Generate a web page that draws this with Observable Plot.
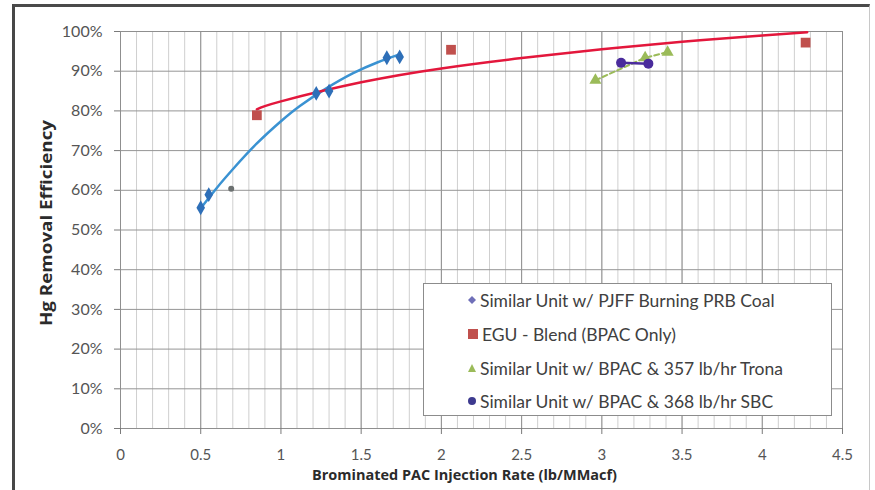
<!DOCTYPE html>
<html>
<head>
<meta charset="utf-8">
<script src="https://cdn.jsdelivr.net/npm/d3@7"></script>
<script src="https://cdn.jsdelivr.net/npm/@observablehq/plot@0.6"></script>
<style>
  html, body { margin: 0; padding: 0; background: #fff; }
  #wrap { position: relative; width: 875px; height: 490px; overflow: hidden; font-family: Lato, "Open Sans", sans-serif; }
  #frame { position: absolute; left: 12px; top: 4px; width: 854px; height: 500px;
           border-left: 3px solid #474747; border-top: 3px solid #4a4a4a; border-right: 1px solid #c8c8c8; pointer-events: none; }
  #legend { position: absolute; left: 423px; top: 283px; width: 409px; height: 133px; background: #fff;
            border: 1px solid #8c8c8c; box-sizing: border-box; }
  .item { position: absolute; left: 44px; height: 20px; display: flex; align-items: center; font-size: 17.5px; color: #404040; white-space: nowrap; }
  .item svg { margin-right: 4px; }
</style>
</head>
<body>
<div id="wrap"><div id="chart"></div><div id="legend"></div><div id="frame"></div></div>
<script>
// ---- data ----
const seriesNames = [
  "Similar Unit w/ PJFF Burning PRB Coal",
  "EGU - Blend (BPAC Only)",
  "Similar Unit w/ BPAC & 357 lb/hr Trona",
  "Similar Unit w/ BPAC & 368 lb/hr SBC"
];
// PJFF / PRB coal points (%)
const pjffX = [0.50, 0.55, 1.22, 1.30, 1.66, 1.74];
const pjffY = [55.6, 58.9, 84.4, 85.0, 93.4, 93.6];
// odd grey point
const greyX = [0.69];
const greyY = [60.4];
// blue trend curve samples
const pjffTrendX = [0.50, 0.60, 0.70, 0.85, 1.00, 1.12, 1.28, 1.45, 1.60, 1.73];
const pjffTrendY = [55.5, 60.6, 65.3, 71.8, 77.4, 81.3, 85.6, 89.5, 92.2, 94.1];
// EGU blend points
const eguX = [0.85, 2.06, 4.27];
const eguY = [78.9, 95.4, 97.2];
// red trend curve samples
const eguTrendX = [0.85, 1.00, 1.50, 2.00, 2.50, 3.00, 3.50, 4.00, 4.28];
const eguTrendY = [80.4, 82.4, 87.2, 90.7, 93.3, 95.5, 97.4, 99.0, 99.8];
// Trona
const tronaX = [2.96, 3.27, 3.41];
const tronaY = [87.7, 93.4, 94.8];
// SBC
const sbcX = [3.12, 3.29];
const sbcY = [92.1, 91.9];
// axes
const xTicks = [0, 0.5, 1, 1.5, 2, 2.5, 3, 3.5, 4, 4.5];
const xTickLabels = ["0", "0.5", "1", "1.5", "2", "2.5", "3", "3.5", "4", "4.5"];
const xMinor = d3.range(0, 45).map(i => i / 10);
const yTicks = [0, 10, 20, 30, 40, 50, 60, 70, 80, 90, 100];
const yTickLabels = yTicks.map(v => v + "%");
const xTitle = "Brominated PAC Injection Rate (lb/MMacf)";
const yTitle = "Hg Removal Efficiency";

const colors = { blue: "#2e6fb8", blueLine: "#3a92d2", red: "#c0504d", redLine: "#e3173c", green: "#9bbb59", purple: "#4a2c9c" };

const zip = (xs, ys) => xs.map((x, i) => ({ x, y: ys[i] }));
const pjff = zip(pjffX, pjffY), grey = zip(greyX, greyY), pjffTrend = zip(pjffTrendX, pjffTrendY);
const egu = zip(eguX, eguY), eguTrend = zip(eguTrendX, eguTrendY);
const trona = zip(tronaX, tronaY), sbc = zip(sbcX, sbcY);

const chart = Plot.plot({
  width: 875, height: 490,
  marginLeft: 120, marginRight: 33, marginTop: 31, marginBottom: 62,
  style: { fontFamily: "Lato, 'Open Sans', sans-serif", background: "transparent" },
  x: { domain: [0, 4.5] },
  y: { domain: [0, 100] },
  marks: [
    Plot.ruleX(xMinor, { stroke: "#cfcfcf", strokeWidth: 1 }),
    Plot.ruleX(xTicks, { stroke: "#8f8f8f", strokeWidth: 1 }),
    Plot.ruleY(yTicks, { stroke: "#959595", strokeWidth: 1 }),
    Plot.frame({ stroke: "#8f8f8f" }),
    Plot.axisX(xTicks, { tickSize: 6, tickPadding: 15, tickFormat: (d, i) => xTickLabels[i], fontSize: 15, color: "#7a7a7a", fill: "#555", label: null }),
    Plot.axisY(yTicks, { tickSize: 6, tickPadding: 12, tickFormat: (d, i) => yTickLabels[i], fontSize: 16, color: "#7a7a7a", fill: "#555", label: null }),
    Plot.text([yTitle], { frameAnchor: "left", textAnchor: "middle", dx: -74, dy: -7, rotate: -90, fontSize: 16.5, fontWeight: "bold", fill: "#2b2b2b", fontFamily: "'Open Sans', Lato, sans-serif", className: "ytitle" }),
    Plot.text([xTitle], { frameAnchor: "bottom", dx: -17, dy: 51, fontSize: 14, fontWeight: "bold", fill: "#2b2b2b", fontFamily: "'Open Sans', Lato, sans-serif", className: "xtitle" }),
    Plot.line(pjffTrend, { x: "x", y: "y", stroke: colors.blueLine, strokeWidth: 2.5, curve: "natural" }),
    Plot.line(eguTrend, { x: "x", y: "y", stroke: colors.redLine, strokeWidth: 2.5, curve: "natural" }),
    Plot.line(trona, { x: "x", y: "y", stroke: colors.green, strokeWidth: 2, strokeDasharray: "5,3" }),
    Plot.line(sbc, { x: "x", y: "y", stroke: colors.purple, strokeWidth: 2.5 }),
    Plot.dot(pjff, { x: "x", y: "y", symbol: "diamond", fill: colors.blue, r: 4.5 }),
    Plot.dot(grey, { x: "x", y: "y", fill: "#6b7070", r: 3 }),
    Plot.dot(egu, { x: "x", y: "y", symbol: "square", fill: colors.red, r: 5.5 }),
    Plot.dot(trona, { x: "x", y: "y", symbol: "triangle", fill: colors.green, r: 4.5 }),
    Plot.dot(sbc, { x: "x", y: "y", fill: colors.purple, r: 5 })
  ]
});
document.getElementById("chart").appendChild(chart);
// stretch titles to the reference's text lengths
d3.select(chart).selectAll("g.ytitle text").attr("textLength", 206).attr("lengthAdjust", "spacingAndGlyphs");
d3.select(chart).selectAll("g.xtitle text").attr("textLength", 305).attr("lengthAdjust", "spacingAndGlyphs");

// legend
const markers = [
  '<svg width="8" height="8"><path d="M4 0L8 4L4 8L0 4Z" fill="#6f6fb8"/></svg>',
  '<svg width="10" height="10"><rect width="10" height="10" fill="#c0504d"/></svg>',
  '<svg width="8" height="8"><path d="M4 0L8 8L0 8Z" fill="#9bbb59"/></svg>',
  '<svg width="8" height="8"><circle cx="4" cy="4" r="4" fill="#3d3a8f"/></svg>'
];
const tops = [6, 40, 74, 107];
const legend = document.getElementById("legend");
seriesNames.forEach((name, i) => {
  const div = document.createElement("div");
  div.className = "item";
  div.style.top = tops[i] + "px";
  div.innerHTML = markers[i] + "<span></span>";
  div.querySelector("span").textContent = name;
  legend.appendChild(div);
});
</script>
</body>
</html>
